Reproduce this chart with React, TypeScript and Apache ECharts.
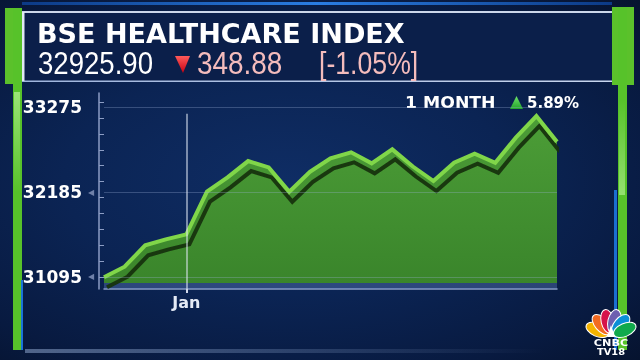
import React, { useEffect, useRef } from "react";
import * as echarts from "echarts";

const categories = [
  "26 Dec", "27 Dec", "28 Dec", "29 Dec", "1 Jan", "2 Jan", "3 Jan", "4 Jan",
  "5 Jan", "8 Jan", "9 Jan", "10 Jan", "11 Jan", "12 Jan", "15 Jan", "16 Jan",
  "17 Jan", "18 Jan", "19 Jan", "23 Jan", "24 Jan", "25 Jan", "29 Jan",
];
const indexValues = [
  31091, 31227, 31501, 31578, 31642, 32189, 32373, 32582, 32501, 32189, 32445,
  32617, 32694, 32553, 32732, 32512, 32326, 32560, 32677, 32560, 32882, 33159,
  32830,
];
const yLabelValues = [31095, 32185, 33275];
const yMinorTicks = [
  31095, 31299, 31503, 31707, 31911, 32115, 32319, 32523, 32727, 32931, 33135,
  33339,
];
const monthLabel = "Jan";
const monthIndex = 4;

const title = "BSE HEALTHCARE INDEX";
const lastValue = "32925.90";
const changeValue = "348.88";
const changePct = "[-1.05%]";
const periodLabel = "1 MONTH";
const periodChange = "5.89%";

const Y_MIN = 30941;
const Y_MAX = 33455;
const AREA_BASE = 31018;

export default function App() {
  const ref = useRef<HTMLDivElement>(null);
  useEffect(() => {
    if (!ref.current) return;
    const chart = echarts.init(ref.current, null, { renderer: "svg" });
    const LG = echarts.graphic.LinearGradient;
    const feathers = [
      { a: -66, c: "#f5b300" },
      { a: -40, c: "#f26a21" },
      { a: -13, c: "#d6124a" },
      { a: 13, c: "#6d5fb0" },
      { a: 40, c: "#0a8fd6" },
      { a: 66, c: "#10a94c" },
    ];
    const numFont = "31px 'Liberation Sans', 'DejaVu Sans'";
    const option: any = {
      animation: false,
      backgroundColor: "transparent",
      grid: { left: 104, right: 83, top: 93, bottom: 71 },
      xAxis: {
        type: "category",
        data: categories,
        boundaryGap: false,
        axisLine: { lineStyle: { color: "#8c9dc4", width: 1.5 } },
        axisTick: {
          show: true,
          interval: (i: number) => i === monthIndex,
          length: 4,
          lineStyle: { color: "#d0d8ea", width: 2 },
        },
        axisLabel: {
          interval: (i: number) => i === monthIndex,
          formatter: (_v: string, i: number) => (i === monthIndex ? monthLabel : ""),
          color: "#e4eaf5",
          fontFamily: "DejaVu Sans",
          fontWeight: "bold",
          fontSize: 16,
          margin: 5,
        },
        splitLine: { show: false },
      },
      yAxis: {
        type: "value",
        min: Y_MIN,
        max: Y_MAX,
        offset: 5,
        axisLine: { show: true, lineStyle: { color: "#8c9dc4", width: 1.5 } },
        axisTick: {
          show: true,
          inside: true,
          length: 5,
          customValues: yMinorTicks,
          lineStyle: { color: "#8c9dc4", width: 1 },
        },
        splitLine: { show: false },
        axisLabel: {
          customValues: yLabelValues,
          margin: 5,
          formatter: (v: number) =>
            v === 33275 ? `{v|${v}}{h|◀}` : `{v|${v}}{a|◀}`,
          rich: {
            v: {
              color: "#ffffff",
              fontFamily: "DejaVu Sans",
              fontWeight: "bold",
              fontSize: 17,
            },
            a: { color: "#6f80a8", fontSize: 8, padding: [0, 0, 0, 6] },
            h: { color: "transparent", fontSize: 8, padding: [0, 0, 0, 6] },
          },
        },
      },
      series: [
        {
          type: "line",
          data: indexValues,
          symbol: "none",
          z: 2,
          lineStyle: { width: 0 },
          areaStyle: {
            origin: AREA_BASE,
            opacity: 1,
            color: new LG(0, 0, 0, 1, [
              { offset: 0, color: "#4c9d37" },
              { offset: 1, color: "#3a852b" },
            ]),
          },
          markArea: {
            silent: true,
            itemStyle: { color: "rgba(110,140,205,0.35)" },
            data: [[{ yAxis: Y_MIN }, { yAxis: AREA_BASE }]],
          },
          markLine: {
            silent: true,
            symbol: "none",
            label: { show: false },
            lineStyle: { color: "rgba(160,180,220,0.3)", width: 1, type: "solid" },
            data: [
              { yAxis: yLabelValues[0] },
              { yAxis: yLabelValues[1] },
              { yAxis: yLabelValues[2] },
            ],
          },
        },
        {
          type: "line",
          data: indexValues,
          symbol: "none",
          z: 4,
          lineStyle: {
            color: "#80d64a",
            width: 4,
            join: "miter",
            shadowColor: "rgba(22,48,12,0.95)",
            shadowOffsetY: 10,
            shadowOffsetX: 3,
            shadowBlur: 0,
          },
          markLine: {
            silent: true,
            symbol: "none",
            label: { show: false },
            lineStyle: { color: "rgba(225,232,245,0.7)", width: 1.5, type: "solid", shadowBlur: 0 },
            data: [
              [
                { coord: [monthIndex, 33189] },
                { coord: [monthIndex, Y_MIN] },
              ],
            ],
          },
        },
      ],
      graphic: [
        {
          type: "rect",
          shape: { x: 22, y: 2, width: 590, height: 3 },
          style: {
            fill: new LG(0, 0, 1, 0, [
              { offset: 0, color: "#0c3a86" },
              { offset: 0.5, color: "#2a7de2" },
              { offset: 1, color: "#0c3a86" },
            ]),
          },
        },
        {
          type: "rect",
          shape: { x: 22, y: 12, width: 592, height: 69 },
          style: { fill: "#0b1f4a" },
        },
        { type: "rect", shape: { x: 22, y: 11, width: 592, height: 2 }, style: { fill: "#cbd6ea" } },
        {
          type: "rect",
          shape: { x: 22, y: 80.5, width: 592, height: 1.5 },
          style: {
            fill: new LG(0, 0, 1, 0, [
              { offset: 0, color: "#9fb5dd" },
              { offset: 1, color: "#c8d6ee" },
            ]),
          },
        },
        { type: "rect", shape: { x: 22, y: 12, width: 2.5, height: 69 }, style: { fill: "#e2e9f5" } },
        { type: "rect", shape: { x: 5, y: 8, width: 17, height: 76 }, style: { fill: "#5bc12b" } },
        { type: "rect", shape: { x: 13, y: 8, width: 9, height: 342 }, style: { fill: "#57c22a" } },
        {
          type: "rect",
          shape: { x: 14, y: 92, width: 6, height: 100 },
          style: {
            fill: new LG(0, 0, 0, 1, [
              { offset: 0, color: "rgba(210,255,180,0.55)" },
              { offset: 1, color: "rgba(210,255,180,0)" },
            ]),
          },
        },
        { type: "rect", shape: { x: 21, y: 280, width: 2, height: 70 }, style: { fill: "#1a74d6" } },
        { type: "rect", shape: { x: 612, y: 7, width: 22, height: 78 }, style: { fill: "#5bc12b" } },
        { type: "rect", shape: { x: 618, y: 7, width: 9, height: 343 }, style: { fill: "#57c22a" } },
        {
          type: "rect",
          shape: { x: 619, y: 100, width: 6, height: 95 },
          style: {
            fill: new LG(0, 0, 0, 1, [
              { offset: 0, color: "rgba(210,255,180,0)" },
              { offset: 1, color: "rgba(210,255,180,0.5)" },
            ]),
          },
        },
        { type: "rect", shape: { x: 614, y: 190, width: 3, height: 160 }, style: { fill: "#1a6fd0" } },
        {
          type: "rect",
          shape: { x: 25, y: 349, width: 520, height: 4 },
          style: {
            fill: new LG(0, 0, 1, 0, [
              { offset: 0, color: "rgba(170,195,235,0.45)" },
              { offset: 1, color: "rgba(170,195,235,0)" },
            ]),
          },
        },
        {
          type: "text",
          x: 37,
          y: 34,
          scaleX: 1.04,
          style: {
            text: title,
            x: 0,
            y: 0,
            fill: "#ffffff",
            font: "bold 26px 'DejaVu Sans'",
            verticalAlign: "middle",
          },
        },
        {
          type: "text",
          x: 38,
          y: 63,
          scaleX: 0.89,
          style: {
            text: lastValue,
            x: 0,
            y: 0,
            fill: "#ffffff",
            font: numFont,
            verticalAlign: "middle",
          },
        },
        {
          type: "polygon",
          shape: { points: [[175, 56], [190, 56], [183, 73]] },
          style: {
            fill: new LG(0, 0, 0, 1, [
              { offset: 0, color: "#ff5a5a" },
              { offset: 1, color: "#c40012" },
            ]),
          },
        },
        {
          type: "text",
          x: 197,
          y: 63,
          scaleX: 0.9,
          style: {
            text: changeValue,
            x: 0,
            y: 0,
            fill: "#f4bcbc",
            font: numFont,
            verticalAlign: "middle",
          },
        },
        {
          type: "text",
          x: 319,
          y: 63,
          scaleX: 0.86,
          style: {
            text: changePct,
            x: 0,
            y: 0,
            fill: "#f4bcbc",
            font: numFont,
            verticalAlign: "middle",
          },
        },
        {
          type: "text",
          x: 405,
          y: 102.5,
          scaleX: 1.08,
          style: {
            text: periodLabel,
            x: 0,
            y: 0,
            fill: "#ffffff",
            font: "bold 16px 'DejaVu Sans'",
            verticalAlign: "middle",
          },
        },
        {
          type: "polygon",
          shape: { points: [[510, 109], [523, 109], [516.5, 96]] },
          style: {
            fill: new LG(0, 0, 0, 1, [
              { offset: 0, color: "#6fe36a" },
              { offset: 1, color: "#22a32a" },
            ]),
          },
        },
        {
          type: "text",
          style: {
            text: periodChange,
            x: 527,
            y: 102.5,
            fill: "#ffffff",
            font: "bold 15px 'DejaVu Sans'",
            verticalAlign: "middle",
          },
        },
        {
          type: "group",
          x: 611,
          y: 336,
          children: [
            ...feathers.map((f) => ({
              type: "ellipse",
              rotation: (-f.a * Math.PI) / 180,
              shape: { cx: 0, cy: -15, rx: 6.5, ry: 12 },
              style: { fill: f.c, stroke: "#ffffff", lineWidth: 1 },
            })),
            {
              type: "polygon",
              shape: { points: [[-4, 1], [4, 1], [0, -11]] },
              style: { fill: "#ffffff" },
            },
          ],
        },
        {
          type: "text",
          x: 611,
          y: 342.5,
          scaleX: 1.25,
          style: {
            text: "CNBC",
            x: 0,
            y: 0,
            fill: "#ffffff",
            font: "bold 9px 'DejaVu Sans'",
            align: "center",
            verticalAlign: "middle",
          },
        },
        {
          type: "text",
          x: 611,
          y: 351.5,
          scaleX: 1.1,
          style: {
            text: "TV18",
            x: 0,
            y: 0,
            fill: "#ffffff",
            font: "bold 9px 'DejaVu Sans'",
            align: "center",
            verticalAlign: "middle",
          },
        },
      ],
    };
    chart.setOption(option);
    return () => chart.dispose();
  }, []);
  return (
    <div
      style={{
        position: "fixed",
        left: 0,
        top: 0,
        width: 640,
        height: 360,
        background:
          "radial-gradient(ellipse at 45% 50%, #0f2d64 0%, #0b2454 45%, #081a40 80%, #06132f 100%)",
      }}
    >
      <div ref={ref} style={{ width: 640, height: 360 }} />
    </div>
  );
}
